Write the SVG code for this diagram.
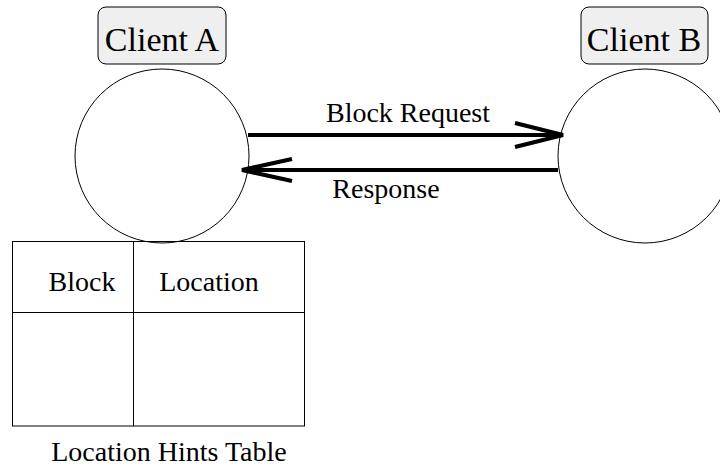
<svg xmlns="http://www.w3.org/2000/svg" width="720" height="466" viewBox="0 0 720 466" font-family="'Liberation Serif', 'DejaVu Serif', serif">
<style>
text{font-family:'Liberation Serif','DejaVu Serif',serif;fill:#000}
.lbl{font-size:34px;text-anchor:middle}
.t{font-size:28px;text-anchor:middle}
.box{fill:#efefef;stroke:#000;stroke-width:1}
.circ{fill:#fff;stroke:#000;stroke-width:1}
.ln{fill:none;stroke:#000;stroke-width:4}
.tb{fill:none;stroke:#000;stroke-width:1}
</style>
<rect width="720" height="466" fill="#fff"/>
<g id="clientA">
<circle class="circ" cx="162" cy="156" r="87"/>
<rect class="box" x="98" y="7" width="128" height="57" rx="8"/>
<text class="lbl" x="162" y="51">Client A</text>
</g>
<g id="clientB">
<circle class="circ" cx="645" cy="156" r="87"/>
<rect class="box" x="581" y="7" width="127" height="57" rx="8"/>
<text class="lbl" x="644" y="51">Client B</text>
</g>
<g id="table">
<rect class="tb" x="12.5" y="241.5" width="292" height="184.5"/>
<line class="tb" x1="133.5" y1="241.5" x2="133.5" y2="426"/>
<line class="tb" x1="12.5" y1="312.5" x2="304.5" y2="312.5"/>
<text class="t" x="82" y="291">Block</text>
<text class="t" x="209" y="291">Location</text>
<text class="t" x="169" y="461">Location Hints Table</text>
</g>
<g id="connectors">
<line class="ln" x1="248" y1="135" x2="563" y2="135"/>
<polyline class="ln" points="515,123 563,135 515,147"/>
<line class="ln" x1="558" y1="170" x2="242" y2="170"/>
<polyline class="ln" points="292,159 242,170 292,181"/>
<text class="t" x="408" y="122">Block Request</text>
<text class="t" x="386" y="198">Response</text>
</g>
</svg>
